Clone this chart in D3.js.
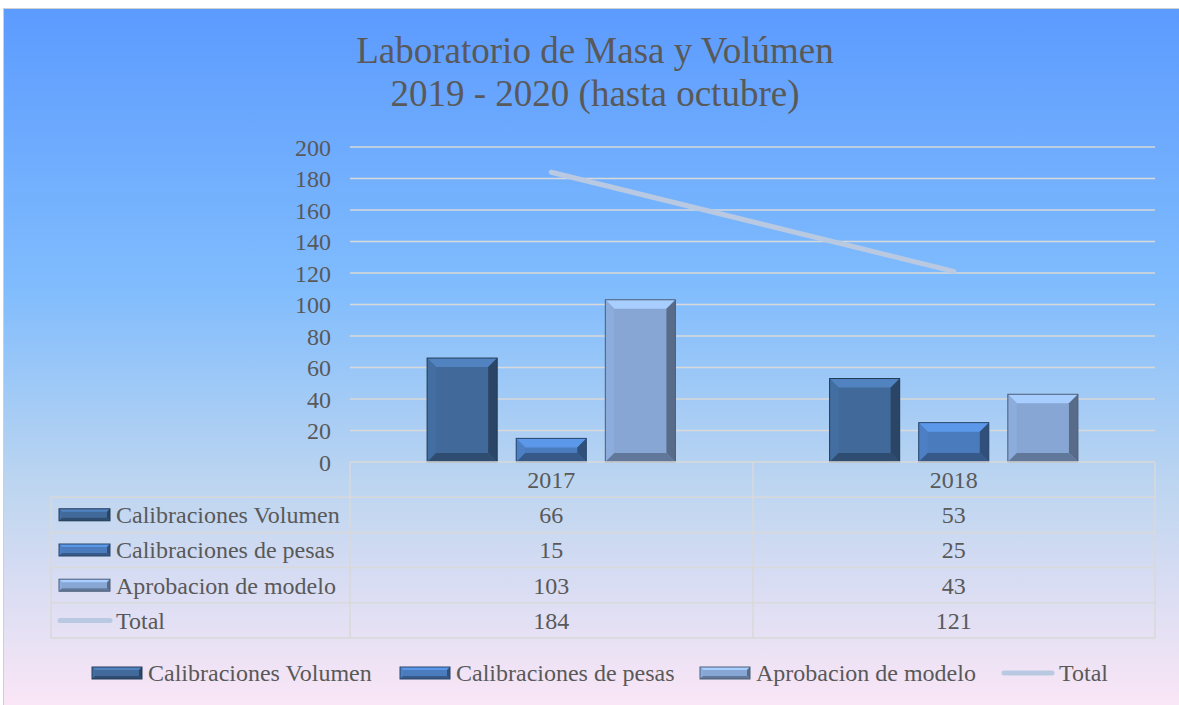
<!doctype html>
<html>
<head>
<meta charset="utf-8">
<title>Laboratorio de Masa y Volúmen</title>
<script src="https://cdnjs.cloudflare.com/ajax/libs/d3/7.8.5/d3.min.js"></script>
<style>
  body { margin: 0; background: #fff; }
  text { font-family: "Liberation Serif", "Times New Roman", serif; fill: #595959; }
</style>
</head>
<body>
<div id="chart"></div>
<script>
// data
let years = ["2017", "2018"];
let seriesNames = ["Calibraciones Volumen", "Calibraciones de pesas", "Aprobacion de modelo"];
let calVolumen = [66, 53];
let calPesas = [15, 25];
let aprobModelo = [103, 43];
let total = [184, 121];
let yTicks = [0, 20, 40, 60, 80, 100, 120, 140, 160, 180, 200];

let barValues = [calVolumen, calPesas, aprobModelo];
let barColors = ["#416a9b", "#4a7bbd", "#87a6d4"];

let W = 1179, H = 705;
let fs = "24px";
let svg = d3.select("#chart").append("svg").attr("width", W).attr("height", H);

// background gradient
let defs = svg.append("defs");
let bg = defs.append("linearGradient").attr("id", "bg").attr("x1", 0).attr("y1", 0).attr("x2", 0).attr("y2", 1);
bg.append("stop").attr("offset", "0%").attr("stop-color", "#5c9bff");
bg.append("stop").attr("offset", "40%").attr("stop-color", "#80bcfd");
bg.append("stop").attr("offset", "68%").attr("stop-color", "#bcd5f0");
bg.append("stop").attr("offset", "100%").attr("stop-color", "#fae6f6");

svg.append("rect").attr("x", 3.5).attr("y", 8.5).attr("width", W - 3).attr("height", H - 8)
  .attr("fill", "url(#bg)").attr("stroke", "#d0d0d0");

// title
svg.append("text").attr("x", 595).attr("y", 63).attr("text-anchor", "middle")
  .style("font-size", "37px").text("Laboratorio de Masa y Volúmen");
svg.append("text").attr("x", 595).attr("y", 106).attr("text-anchor", "middle")
  .style("font-size", "37px").text("2019 - 2020 (hasta octubre)");

// scales
let x = d3.scaleBand().domain(years).range([350, 1155]);
let xs = d3.scaleBand().domain(seriesNames).range([0, x.bandwidth()]).paddingInner(0.2135).paddingOuter(0.865);
let y = d3.scaleLinear().domain([0, 200]).range([462, 147]);

// gridlines
svg.append("g").selectAll("line").data(yTicks.slice(1)).join("line")
  .attr("x1", 350).attr("x2", 1155)
  .attr("y1", d => y(d)).attr("y2", d => y(d))
  .attr("stroke", "#d9d9d9").attr("stroke-width", 1.5);

// y axis labels
let yAxis = d3.axisLeft(y).tickValues(yTicks).tickSize(0).tickPadding(0);
let gy = svg.append("g").attr("transform", "translate(331,0)").call(yAxis);
gy.select(".domain").remove();
gy.selectAll("text").style("font-size", fs).style("font-family", "Liberation Serif, serif").attr("fill", "#595959").attr("dy", "0.35em");

// bevelled bar
function bevel(g, x0, y0, w, h, color, b) {
  b = Math.min(b, h / 2, w / 2);
  let c = d3.color(color);
  g.append("rect").attr("x", x0).attr("y", y0).attr("width", w).attr("height", h).attr("fill", color);
  let pts = (a) => a.map(p => p.join(",")).join(" ");
  // top
  g.append("polygon").attr("points", pts([[x0, y0], [x0 + w, y0], [x0 + w - b, y0 + b], [x0 + b, y0 + b]]))
    .attr("fill", c.brighter(0.6));
  // left
  g.append("polygon").attr("points", pts([[x0, y0], [x0 + b, y0 + b], [x0 + b, y0 + h - b], [x0, y0 + h]]))
    .attr("fill", c.brighter(0.1));
  // right
  g.append("polygon").attr("points", pts([[x0 + w, y0], [x0 + w, y0 + h], [x0 + w - b, y0 + h - b], [x0 + w - b, y0 + b]]))
    .attr("fill", c.darker(1.2));
  // bottom
  g.append("polygon").attr("points", pts([[x0, y0 + h], [x0 + w, y0 + h], [x0 + w - b, y0 + h - b], [x0 + b, y0 + h - b]]))
    .attr("fill", c.darker(0.9));
  g.append("rect").attr("x", x0).attr("y", y0).attr("width", w).attr("height", h)
    .attr("fill", "none").attr("stroke", c.darker(1.6)).attr("stroke-width", 1);
}

// bars
let barsG = svg.append("g");
seriesNames.forEach((s, si) => {
  years.forEach((yr, yi) => {
    let v = barValues[si][yi];
    let bx = x(yr) + xs(s);
    bevel(barsG, bx, y(v), xs.bandwidth(), y(0) - y(v), barColors[si], 9);
  });
});

// total line
let line = d3.line().x((d, i) => x(years[i]) + x.bandwidth() / 2).y(d => y(d));
svg.append("path").datum(total).attr("d", line)
  .attr("fill", "none").attr("stroke", "#b9c9e1").attr("stroke-width", 5).attr("stroke-linecap", "round");

// data table
let tableG = svg.append("g");
let rowTop = 462, rowH = 35.2;
let gridCol = "#d9d9d9";
[0, 1, 2, 3, 4, 5].forEach(r => {
  let yy = rowTop + r * rowH;
  tableG.append("line").attr("x1", r === 0 ? 350 : 51).attr("x2", 1155).attr("y1", yy).attr("y2", yy)
    .attr("stroke", gridCol).attr("stroke-width", 1.5);
});
tableG.append("line").attr("x1", 51).attr("x2", 51).attr("y1", rowTop + rowH).attr("y2", rowTop + 5 * rowH).attr("stroke", gridCol).attr("stroke-width", 1.5);
[350, 753, 1155].forEach(xx => {
  tableG.append("line").attr("x1", xx).attr("x2", xx).attr("y1", rowTop).attr("y2", rowTop + 5 * rowH).attr("stroke", gridCol).attr("stroke-width", 1.5);
});
years.forEach(yr => {
  tableG.append("text").attr("x", x(yr) + x.bandwidth() / 2).attr("y", rowTop + rowH / 2).attr("dy", "0.35em")
    .attr("text-anchor", "middle").style("font-size", fs).text(yr);
});
let rowNames = seriesNames.concat(["Total"]);
let rowVals = barValues.concat([total]);
rowNames.forEach((n, r) => {
  let cy = rowTop + (r + 1.5) * rowH;
  if (r < 3) {
    bevel(tableG, 59, cy - 6, 51, 12, barColors[r], 3);
  } else {
    tableG.append("line").attr("x1", 60).attr("x2", 110).attr("y1", cy).attr("y2", cy)
      .attr("stroke", "#b9c9e1").attr("stroke-width", 5).attr("stroke-linecap", "round");
  }
  tableG.append("text").attr("x", 116).attr("y", cy).attr("dy", "0.35em").style("font-size", fs).text(n);
  years.forEach((yr, yi) => {
    tableG.append("text").attr("x", x(yr) + x.bandwidth() / 2).attr("y", cy).attr("dy", "0.35em")
      .attr("text-anchor", "middle").style("font-size", fs).text(rowVals[r][yi]);
  });
});

// bottom legend
let legX = [92, 400, 700, 1003];
let legG = svg.append("g");
rowNames.forEach((n, i) => {
  let cy = 673;
  if (i < 3) {
    bevel(legG, legX[i], cy - 6, 50, 12, barColors[i], 3);
  } else {
    legG.append("line").attr("x1", legX[i] + 1).attr("x2", legX[i] + 49).attr("y1", cy).attr("y2", cy)
      .attr("stroke", "#b9c9e1").attr("stroke-width", 5).attr("stroke-linecap", "round");
  }
  legG.append("text").attr("x", legX[i] + 56).attr("y", cy).attr("dy", "0.35em").style("font-size", fs).text(n);
});
</script>
</body>
</html>
